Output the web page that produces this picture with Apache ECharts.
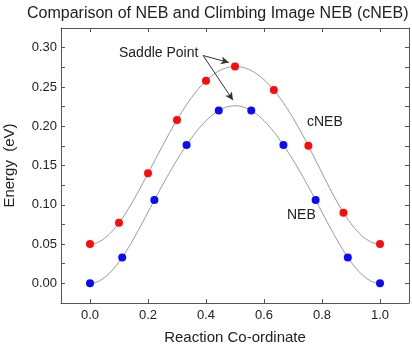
<!DOCTYPE html>
<html>
<head>
<meta charset="UTF-8">
<title>NEB vs cNEB</title>
<script type="text/javascript" src="https://cdn.jsdelivr.net/npm/echarts@6/dist/echarts.min.js"></script>
<style>
  *{margin:0;padding:0}
  html,body{width:100%;height:100%;background:#fff}
  #main{width:412px;height:344px}
</style>
</head>
<body>
<div id="main"></div>
<script type="text/javascript">
// reaction coordinate of each image, and its energy (eV)
var nebX = [0, 0.111, 0.222, 0.333, 0.444, 0.556, 0.667, 0.778, 0.889, 1.0];
var nebE = [0, 0.033, 0.106, 0.176, 0.220, 0.220, 0.176, 0.106, 0.033, 0];
var cnebX = [0, 0.1, 0.2, 0.3, 0.4, 0.5, 0.634, 0.753, 0.874, 1.0];
var cnebE = [0.050, 0.077, 0.140, 0.208, 0.258, 0.276, 0.246, 0.175, 0.090, 0.050];

var xTicks = [0, 0.2, 0.4, 0.6, 0.8, 1.0];
var yTicks = [0, 0.05, 0.10, 0.15, 0.20, 0.25, 0.30];
var yMinorTicks = [0, 0.025, 0.05, 0.075, 0.10, 0.125, 0.15, 0.175, 0.20, 0.225, 0.25, 0.275, 0.30];

function pairs(xs, ys) {
  return xs.map(function (x, i) { return [x, ys[i]]; });
}

// clamped cubic spline (flat at both ends), like the fitted curve in the plot
function splineFn(xs, ys) {
  var n = xs.length, h = [], a = [], b = [], c = [], d = [], M = [];
  for (var i = 0; i < n - 1; i++) h.push(xs[i + 1] - xs[i]);
  for (i = 0; i < n; i++) {
    if (i === 0) {
      a[i] = 0; b[i] = 2 * h[0]; c[i] = h[0];
      d[i] = 6 * ((ys[1] - ys[0]) / h[0]);
    } else if (i === n - 1) {
      a[i] = h[n - 2]; b[i] = 2 * h[n - 2]; c[i] = 0;
      d[i] = 6 * (0 - (ys[n - 1] - ys[n - 2]) / h[n - 2]);
    } else {
      a[i] = h[i - 1]; b[i] = 2 * (h[i - 1] + h[i]); c[i] = h[i];
      d[i] = 6 * ((ys[i + 1] - ys[i]) / h[i] - (ys[i] - ys[i - 1]) / h[i - 1]);
    }
  }
  // thomas algorithm
  for (i = 1; i < n; i++) {
    var m = a[i] / b[i - 1];
    b[i] -= m * c[i - 1];
    d[i] -= m * d[i - 1];
  }
  M[n - 1] = d[n - 1] / b[n - 1];
  for (i = n - 2; i >= 0; i--) M[i] = (d[i] - c[i] * M[i + 1]) / b[i];
  return function (x) {
    var k = 0;
    while (k < n - 2 && x > xs[k + 1]) k++;
    var hk = h[k], A = (xs[k + 1] - x) / hk, B = (x - xs[k]) / hk;
    return A * ys[k] + B * ys[k + 1] + ((A * A * A - A) * M[k] + (B * B * B - B) * M[k + 1]) * hk * hk / 6;
  };
}

function curveSeries(xs, ys) {
  var f = splineFn(xs, ys);
  return {
    type: 'custom',
    silent: true,
    data: [[xs[0], ys[0]]],
    encode: { x: 0, y: 1 },
    z: 2,
    renderItem: function (params, api) {
      var pts = [], steps = 120, x0 = xs[0], x1 = xs[xs.length - 1];
      for (var s = 0; s <= steps; s++) {
        var x = x0 + (x1 - x0) * s / steps;
        pts.push(api.coord([x, f(x)]));
      }
      return {
        type: 'polyline',
        shape: { points: pts, smooth: 0 },
        style: { stroke: '#9a9a9a', lineWidth: 1, fill: null }
      };
    }
  };
}

var frameColor = '#555';
var textColor = '#222';
var font = 'Liberation Sans, Arial, sans-serif';

function frameAxis(extra) {
  var base = {
    type: 'value',
    axisLine: { show: true, onZero: false, lineStyle: { color: frameColor, width: 1 } },
    splitLine: { show: false },
    axisLabel: { show: false }
  };
  for (var k in extra) base[k] = extra[k];
  return base;
}

function ticks(values) {
  return { show: true, inside: true, length: 4, customValues: values, lineStyle: { color: frameColor } };
}

var option = {
  animation: false,
  backgroundColor: '#fff',
  title: {
    text: 'Comparison of NEB and Climbing Image NEB (cNEB)',
    left: 22, top: 1,
    textStyle: { fontSize: 16, fontWeight: 'normal', color: textColor, fontFamily: font }
  },
  grid: { left: 61, top: 28, right: 3, bottom: 41, containLabel: false, outerBoundsMode: 'none' },
  xAxis: [
    frameAxis({
      min: -0.1, max: 1.1, position: 'bottom',
      name: 'Reaction Co-ordinate', nameLocation: 'middle', nameGap: 27,
      nameTextStyle: { fontSize: 15, color: textColor, fontFamily: font },
      axisTick: ticks(xTicks),
      axisLabel: {
        show: true, customValues: xTicks, margin: 6, fontSize: 13, color: textColor, fontFamily: font,
        formatter: function (v) { return v.toFixed(1); }
      }
    }),
    frameAxis({ min: -0.1, max: 1.1, position: 'top', axisTick: ticks(xTicks) })
  ],
  yAxis: [
    frameAxis({
      min: -0.025, max: 0.325, position: 'left',
      name: 'Energy  (eV)', nameLocation: 'middle', nameGap: 44,
      nameTextStyle: { fontSize: 15, color: textColor, fontFamily: font },
      axisTick: ticks(yMinorTicks),
      axisLabel: {
        show: true, customValues: yTicks, margin: 4, fontSize: 13, color: textColor, fontFamily: font,
        formatter: function (v) { return v.toFixed(2); }
      }
    }),
    frameAxis({ min: -0.025, max: 0.325, position: 'right', axisTick: ticks(yMinorTicks) })
  ],
  series: [
    curveSeries(nebX, nebE),
    curveSeries(cnebX, cnebE),
    {
      name: 'NEB',
      type: 'scatter',
      data: pairs(nebX, nebE),
      symbol: 'circle',
      symbolSize: 8,
      itemStyle: { color: '#0a0aff', opacity: 1 },
      z: 3
    },
    {
      name: 'cNEB',
      type: 'scatter',
      data: pairs(cnebX, cnebE),
      symbol: 'circle',
      symbolSize: 8,
      itemStyle: { color: '#ff0a0a', opacity: 1 },
      z: 3,
      markLine: {
        silent: true,
        symbol: ['none', 'arrow'],
        symbolSize: [6, 8],
        label: { show: false },
        lineStyle: { color: '#333', width: 1, type: 'solid' },
        data: [
          [{ coord: [0.39, 0.290] }, { coord: [0.479, 0.281] }],
          [{ coord: [0.39, 0.290] }, { coord: [0.493, 0.233] }]
        ]
      }
    }
  ],
  graphic: [
    { type: 'text', left: 119, top: 46, style: { text: 'Saddle Point', fontSize: 14, fill: textColor, fontFamily: font } },
    { type: 'text', left: 307, top: 115, style: { text: 'cNEB', fontSize: 14, fill: textColor, fontFamily: font } },
    { type: 'text', left: 287, top: 208, style: { text: 'NEB', fontSize: 14, fill: textColor, fontFamily: font } }
  ]
};

var myChart = echarts.init(document.getElementById('main'));
myChart.setOption(option);
</script>
</body>
</html>
